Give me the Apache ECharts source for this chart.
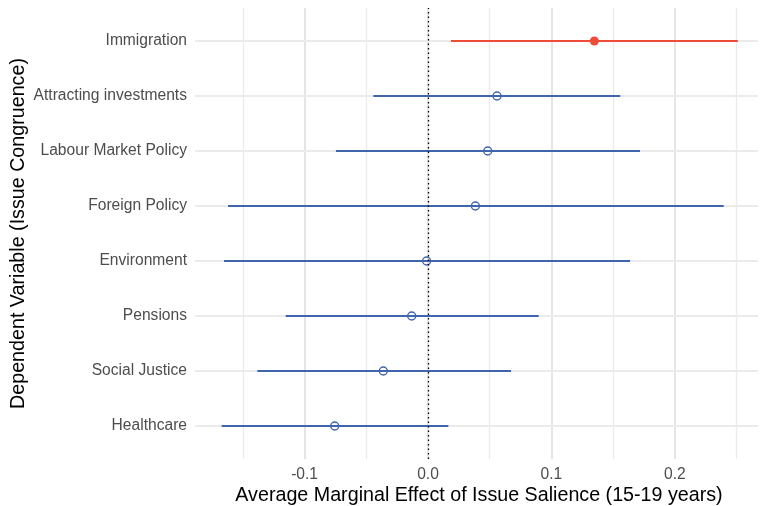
<!DOCTYPE html>
<html>
<head>
<meta charset="utf-8">
<script src="https://cdn.jsdelivr.net/npm/echarts@6/dist/echarts.min.js"></script>
<style>
  html, body { margin: 0; padding: 0; background: #fff; }
  #chart { width: 763px; height: 506px; }
</style>
</head>
<body>
<div id="chart"></div>
<script>
// Issues, listed bottom to top
const issues = ['Healthcare', 'Social Justice', 'Pensions', 'Environment',
  'Foreign Policy', 'Labour Market Policy', 'Attracting investments', 'Immigration'];
// Average marginal effects and 95% interval bounds
const estimate = [-0.0756, -0.0362, -0.0132, -0.0011, 0.0384, 0.0484, 0.0559, 0.1348];
const lower    = [-0.1672, -0.1383, -0.1153, -0.1653, -0.1620, -0.0746, -0.0443, 0.0186];
const upper    = [ 0.0165,  0.0673,  0.0897,  0.1637,  0.2396,  0.1718,  0.1558, 0.2510];
const xMajorTicks = [-0.1, 0, 0.1, 0.2];
const xMinorTicks = [-0.15, -0.05, 0.05, 0.15, 0.25];

const RED = '#EE4B39';
const BLUE = '#3F66AD';
const FONT = '"Liberation Sans", Arial, sans-serif';

const rows = issues.map((name, i) => ({
  pos: i + 1,
  est: estimate[i],
  lo: lower[i],
  hi: upper[i],
  sig: lower[i] > 0 || upper[i] < 0
}));

const xMin = -0.1888, xMax = 0.2674;

const gridLineStyle = (color, width) => ({ color, width, type: 'solid', opacity: 1 });

const chart = echarts.init(document.getElementById('chart'), null, { renderer: 'canvas' });

chart.setOption({
  backgroundColor: '#ffffff',
  animation: false,
  grid: { left: 195, right: 5, top: 8, bottom: 47, outerBoundsMode: 'none', containLabel: false },
  xAxis: {
    type: 'value',
    min: xMin,
    max: xMax,
    name: 'Average Marginal Effect of Issue Salience (15-19 years)',
    nameLocation: 'middle',
    nameGap: 27,
    nameMoveOverlap: false,
    nameTextStyle: { fontFamily: FONT, fontSize: 19.7, color: '#000', padding: [0, 0, 0, 5] },
    axisLine: { show: false },
    axisTick: { show: false },
    splitLine: { show: false },
    axisLabel: {
      customValues: xMajorTicks,
      formatter: v => v.toFixed(1),
      fontFamily: FONT,
      fontSize: 15.6,
      color: '#4D4D4D',
      margin: 8
    }
  },
  yAxis: {
    type: 'value',
    min: 0.4,
    max: 8.6,
    name: 'Dependent Variable (Issue Congruence)',
    nameLocation: 'middle',
    nameGap: 166,
    nameMoveOverlap: false,
    nameRotate: 90,
    nameTextStyle: { fontFamily: FONT, fontSize: 19.7, color: '#000' },
    axisLine: { show: false },
    axisTick: { show: false },
    splitLine: { show: false },
    axisLabel: {
      customValues: rows.map(r => r.pos),
      formatter: v => issues[Math.round(v) - 1] || '',
      fontFamily: FONT,
      fontSize: 15.6,
      color: '#4D4D4D',
      margin: 8
    }
  },
  series: [
    {
      // panel grid lines, kept beneath everything else
      type: 'line',
      data: [],
      z: 0,
      silent: true,
      markLine: {
        z: 0,
        silent: true,
        symbol: ['none', 'none'],
        label: { show: false },
        animation: false,
        emphasis: { disabled: true },
        data: [
          ...xMinorTicks.map(v => ({ xAxis: v, lineStyle: gridLineStyle('#EBEBEB', 1.3) })),
          ...xMajorTicks.map(v => ({ xAxis: v, lineStyle: gridLineStyle('#E3E3E3', 1.8) })),
          ...rows.map(r => ({ yAxis: r.pos, lineStyle: gridLineStyle('#EBEBEB', 2.2) }))
        ]
      }
    },
    // interval bars, one per issue
    ...rows.map(r => ({
      type: 'line',
      z: 3,
      silent: true,
      showSymbol: false,
      symbol: 'none',
      lineStyle: { color: r.sig ? RED : BLUE, width: 2.2, opacity: 1 },
      itemStyle: { color: r.sig ? RED : BLUE },
      emphasis: { disabled: true },
      data: [[r.lo, r.pos], [r.hi, r.pos]]
    })),
    {
      // point estimates: filled when the interval excludes zero, hollow otherwise
      type: 'scatter',
      z: 4,
      symbol: 'circle',
      silent: true,
      data: rows.map(r => ({
        value: [r.est, r.pos],
        symbolSize: r.sig ? 9 : 8,
        itemStyle: r.sig
          ? { color: RED, borderWidth: 0, opacity: 1 }
          : { color: 'rgba(0,0,0,0)', borderColor: BLUE, borderWidth: 1.4, opacity: 1 }
      }))
    },
    {
      // reference line at zero, drawn on top
      type: 'line',
      data: [],
      z: 10,
      silent: true,
      markLine: {
        z: 10,
        silent: true,
        symbol: ['none', 'none'],
        label: { show: false },
        animation: false,
        data: [{ xAxis: 0, lineStyle: { color: '#000', width: 1.3, type: [1.5, 3], opacity: 1 } }]
      }
    }
  ]
});
</script>
</body>
</html>
